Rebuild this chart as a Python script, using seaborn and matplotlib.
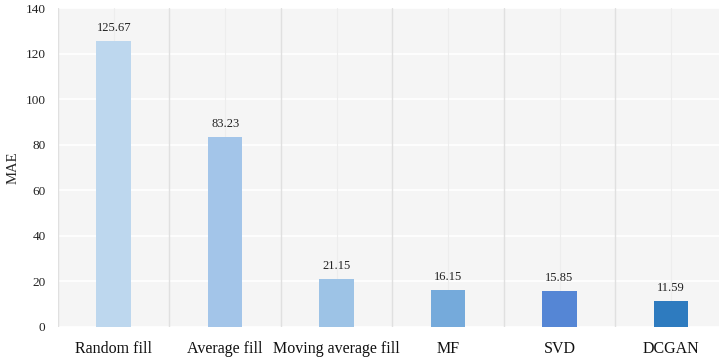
# %% Imports

import matplotlib.pyplot as plt
import pandas as pd
import seaborn as sns

# %% Data

METHODS = ["Random fill", "Average fill", "Moving average fill", "MF", "SVD", "DCGAN"]
MAE = [125.67, 83.23, 21.15, 16.15, 15.85, 11.59]
COLORS = ["#BDD7EE", "#A3C5E9", "#9DC3E6", "#75AADB", "#5586D5", "#2E7BBF"]

df = pd.DataFrame({"Method": METHODS, "MAE": MAE})

# %% Plot

sns.set_style("white")
plt.rcParams["font.family"] = ["Liberation Serif", "DejaVu Serif"]

fig = plt.figure(figsize=(7.19, 3.58), dpi=100)
# plot area runs slightly past the right edge of the picture
ax = fig.add_axes([0.0807, 0.0866, 0.930, 0.891])
ax.set_facecolor("#F5F5F5")

g = sns.barplot(
    data=df,
    x="Method",
    y="MAE",
    hue="Method",
    palette=COLORS,
    saturation=1,
    width=0.31,
    linewidth=0,
    legend=False,
    ax=ax,
    zorder=3,
)

# separators between categories and faint lines through the centres
for i in range(len(METHODS)):
    ax.axvline(i - 0.5, color="#E0E0E0", lw=1.0, zorder=1)
    ax.axvline(i, color="#EDEDED", lw=0.8, zorder=1)

ax.set_ylim(0, 140)
ax.set_xlim(-0.5, len(METHODS) - 0.5)
ax.set_yticks(range(0, 141, 20))
ax.yaxis.grid(True, color="white", lw=1.2, zorder=2)
ax.set_axisbelow(True)

for idx, row in df.iterrows():
    g.annotate(
        f"{row['MAE']:.2f}",
        (idx, row["MAE"]),
        xytext=(0, 5),
        textcoords="offset points",
        ha="center",
        va="bottom",
        fontsize=9,
        color="#222222",
    )

ax.set_xlabel("")
ax.set_ylabel("MAE", fontsize=10.5, labelpad=4)
ax.tick_params(axis="y", length=0, pad=9, labelsize=9.5, labelcolor="#222222")
ax.tick_params(axis="x", length=0, pad=10, labelsize=11.5, labelcolor="#111111")

sns.despine(left=True, bottom=True, right=True, top=True)

plt.savefig("out.png", dpi=100)
